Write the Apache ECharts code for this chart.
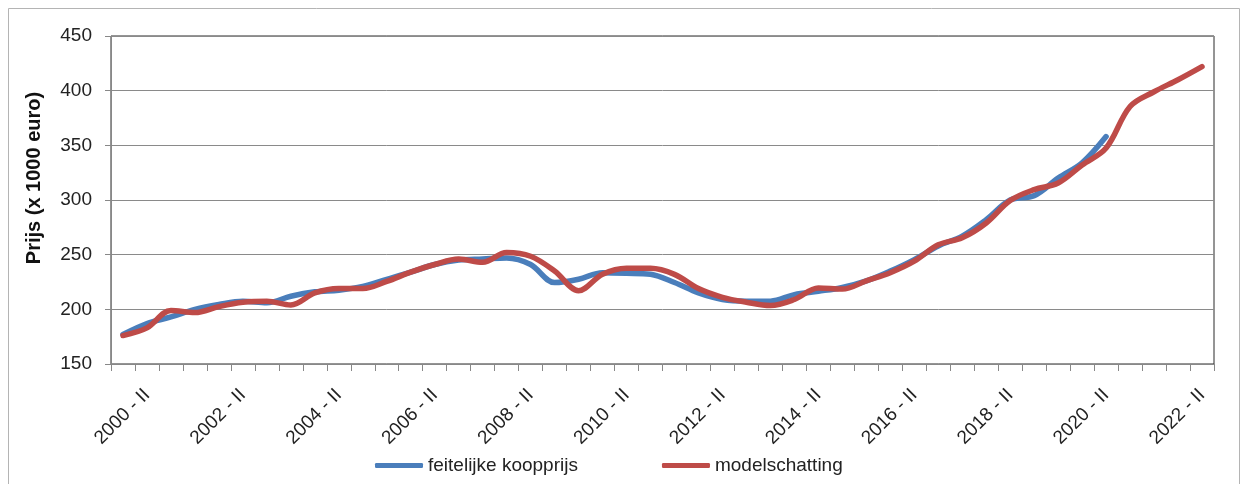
<!DOCTYPE html>
<html>
<head>
<meta charset="utf-8">
<script src="https://cdn.jsdelivr.net/npm/echarts@6/dist/echarts.min.js"></script>
<style>
  html, body { margin: 0; padding: 0; background: #fff; }
  #chart { width: 1244px; height: 484px; }
</style>
</head>
<body>
<div id="chart"></div>
<script>
// Half-year periods, 2000 - I through 2022 - II
const periods = [
  '2000 - I', '2000 - II', '2001 - I', '2001 - II', '2002 - I', '2002 - II',
  '2003 - I', '2003 - II', '2004 - I', '2004 - II', '2005 - I', '2005 - II',
  '2006 - I', '2006 - II', '2007 - I', '2007 - II', '2008 - I', '2008 - II',
  '2009 - I', '2009 - II', '2010 - I', '2010 - II', '2011 - I', '2011 - II',
  '2012 - I', '2012 - II', '2013 - I', '2013 - II', '2014 - I', '2014 - II',
  '2015 - I', '2015 - II', '2016 - I', '2016 - II', '2017 - I', '2017 - II',
  '2018 - I', '2018 - II', '2019 - I', '2019 - II', '2020 - I', '2020 - II',
  '2021 - I', '2021 - II', '2022 - I', '2022 - II'
];

// Actual purchase price (x 1000 euro), observed up to 2020 - II
const feitelijkeKoopprijs = [
  177, 187, 193, 200, 204.5, 207.5, 206, 212, 216, 217.5, 221, 227.5,
  234, 241, 245, 246, 247, 241, 224.5, 227.5, 233.5, 233, 232, 224.5,
  215, 209, 207.5, 207.5, 213.5, 216.5, 220, 226, 235, 245.5, 258, 267,
  282, 300, 304, 320, 334, 358
];

// Model estimate (x 1000 euro), through 2022 - II
const modelschatting = [
  176, 183, 199, 197, 202.5, 206.5, 207.5, 204, 215, 219, 219, 225.5,
  234, 241, 246, 243, 252, 248.5, 235, 217, 232, 237.5, 237.5, 232,
  219, 211, 206.5, 203.5, 209, 219.5, 218.5, 226, 233.5, 244, 259, 265.5,
  279, 299.5, 309.5, 315.5, 332, 347.5, 385.5, 399, 410, 422
];

const yTicks = { min: 150, max: 450, step: 50 };
const seriesNames = ['feitelijke koopprijs', 'modelschatting'];

const FONT = '"Liberation Sans", Arial, sans-serif';
const chart = echarts.init(document.getElementById('chart'), null, { renderer: 'canvas' });

chart.setOption({
  animation: false,
  backgroundColor: '#ffffff',
  textStyle: { fontFamily: FONT },
  graphic: [{
    type: 'rect',
    shape: { x: 8.5, y: 8.5, width: 1231, height: 500 },
    style: { fill: 'none', stroke: '#b4b4b4', lineWidth: 1 },
    silent: true,
    z: -10
  }],
  grid: {
    left: 111, right: 30, top: 36, bottom: 120,
    show: true, borderColor: '#2a2a2a', borderWidth: 1, backgroundColor: 'transparent'
  },
  legend: {
    data: seriesNames,
    left: 375, top: 456,
    padding: 0,
    itemWidth: 48, itemHeight: 5, itemGap: 84,
    icon: 'roundRect',
    textStyle: { fontFamily: FONT, fontSize: 19, color: '#222' }
  },
  xAxis: {
    type: 'category',
    data: periods,
    boundaryGap: true,
    axisLine: { lineStyle: { color: '#888', width: 1 } },
    axisTick: { show: true, interval: 0, length: 7, lineStyle: { color: '#888' } },
    axisLabel: {
      interval: (index) => index % 4 === 1,
      rotate: 45,
      margin: 28,
      fontFamily: FONT, fontSize: 19, color: '#222'
    },
    splitLine: { show: false }
  },
  yAxis: {
    type: 'value',
    min: yTicks.min, max: yTicks.max, interval: yTicks.step,
    name: 'Prijs (x 1000 euro)',
    nameLocation: 'middle',
    nameGap: 67,
    nameTextStyle: { fontFamily: FONT, fontSize: 20, fontWeight: 'bold', color: '#111', padding: [0, 0, 0, 44] },
    axisLine: { show: true, lineStyle: { color: '#888', width: 1 } },
    axisTick: { show: true, length: 6, lineStyle: { color: '#888' } },
    axisLabel: { margin: 19, fontFamily: FONT, fontSize: 19, color: '#222' },
    splitLine: { show: true, lineStyle: { color: '#8a8a8a', width: 1 } }
  },
  series: [
    {
      name: seriesNames[0],
      type: 'line',
      data: feitelijkeKoopprijs,
      smooth: 0.35,
      showSymbol: false,
      symbol: 'none',
      lineStyle: { color: '#4a7ebb', width: 5.5, cap: 'round', join: 'round' },
      itemStyle: { color: '#4a7ebb' },
      z: 2
    },
    {
      name: seriesNames[1],
      type: 'line',
      data: modelschatting,
      smooth: 0.35,
      showSymbol: false,
      symbol: 'none',
      lineStyle: { color: '#be4b48', width: 5.5, cap: 'round', join: 'round' },
      itemStyle: { color: '#be4b48' },
      z: 3
    }
  ]
});
</script>
</body>
</html>
